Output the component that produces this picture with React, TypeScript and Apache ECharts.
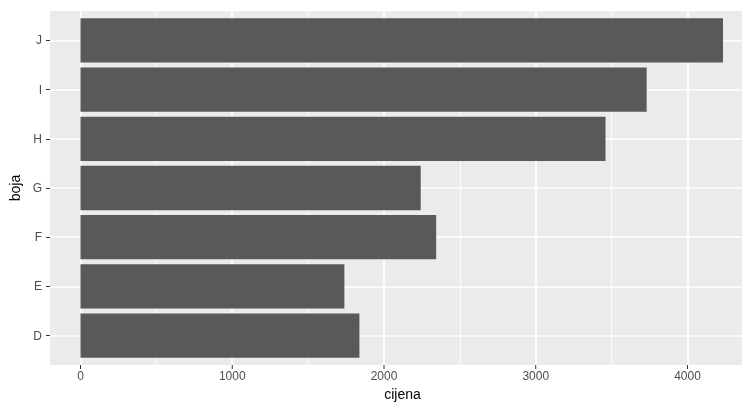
import React, { useEffect, useRef } from "react";
import * as echarts from "echarts";

const categories = ["D", "E", "F", "G", "H", "I", "J"];
const medianPrice = [1838, 1739, 2344, 2242, 3460, 3731, 4234];
const xTicks = [0, 1000, 2000, 3000, 4000];
const xMinor = [500, 1500, 2500, 3500];
const yPositions = [0, 1, 2, 3, 4, 5, 6];

const X_MIN = -201;
const X_MAX = 4445;
const Y_MIN = -0.6;
const Y_MAX = 6.6;

export default function App() {
  const ref = useRef<HTMLDivElement>(null);
  useEffect(() => {
    if (!ref.current) return;
    const chart = echarts.init(ref.current, undefined, { renderer: "svg" });
    const gridLines: any[] = [
      ...xMinor.map((v) => ({ xAxis: v, lineStyle: { width: 0.8 } })),
      ...xTicks.map((v) => ({ xAxis: v, lineStyle: { width: 1.6 } })),
      ...yPositions.map((v) => ({ yAxis: v, lineStyle: { width: 1.6 } })),
    ];
    chart.setOption({
      animation: false,
      textStyle: { fontFamily: "Liberation Sans" },
      grid: [
        {
          left: 50,
          width: 705,
          top: 11,
          bottom: 41,
          show: true,
          backgroundColor: "#EBEBEB",
          borderWidth: 0,
          outerBoundsMode: "none",
        },
        {
          left: 50,
          width: 705,
          top: 15.9,
          bottom: 45.9,
          outerBoundsMode: "none",
        },
      ],
      xAxis: [
        {
          gridIndex: 0,
          type: "value",
          min: X_MIN,
          max: X_MAX,
          axisLine: {
            show: true,
            onZero: false,
            lineStyle: { color: "rgba(0,0,0,0)" },
          },
          splitLine: { show: false },
          axisTick: { show: false },
          axisLabel: {
            customValues: xTicks,
            color: "#4D4D4D",
            fontSize: 12,
            margin: 5,
            formatter: (v: number) => String(v),
          },
          name: "cijena",
          nameLocation: "middle",
          nameGap: 22,
          nameTextStyle: { color: "#000000", fontSize: 14 },
        },
        {
          gridIndex: 1,
          type: "value",
          min: X_MIN,
          max: X_MAX,
          show: false,
        },
      ],
      yAxis: [
        { gridIndex: 0, type: "value", min: Y_MIN, max: Y_MAX, show: false },
        {
          gridIndex: 1,
          type: "category",
          data: categories,
          axisLine: {
            show: true,
            onZero: false,
            lineStyle: { color: "rgba(0,0,0,0)" },
          },
          splitLine: { show: false },
          axisTick: {
            show: true,
            alignWithLabel: true,
            length: 4,
            lineStyle: { color: "#333333", width: 1 },
          },
          axisLabel: { color: "#4D4D4D", fontSize: 12, margin: 8 },
          name: "boja",
          nameLocation: "middle",
          nameRotate: 90,
          nameGap: 25,
          nameTextStyle: { color: "#000000", fontSize: 14 },
        },
      ],
      series: [
        {
          type: "line",
          xAxisIndex: 0,
          yAxisIndex: 0,
          data: [],
          z: 1,
          markLine: {
            silent: true,
            z: 1,
            symbol: ["none", "none"],
            label: { show: false },
            lineStyle: { color: "#FFFFFF", type: "solid" },
            data: gridLines,
          },
        },
        {
          type: "bar",
          xAxisIndex: 1,
          yAxisIndex: 1,
          data: medianPrice,
          barWidth: "90%",
          itemStyle: { color: "#595959" },
          z: 3,
        },
      ],
    });

    // x-axis tick marks, positioned through the axis scale
    const yBottom = chart.convertToPixel({ yAxisIndex: 0 }, Y_MIN) as number;
    const tickEls = xTicks.map((v) => {
      const x = chart.convertToPixel({ xAxisIndex: 0 }, v) as number;
      return {
        type: "line",
        silent: true,
        shape: { x1: x, y1: yBottom, x2: x, y2: yBottom + 4 },
        style: { stroke: "#333333", lineWidth: 1 },
      };
    });
    chart.setOption({ graphic: { elements: tickEls } });

    return () => chart.dispose();
  }, []);
  return (
    <div
      ref={ref}
      style={{ position: "fixed", left: 0, top: 0, width: 742, height: 406 }}
    />
  );
}
